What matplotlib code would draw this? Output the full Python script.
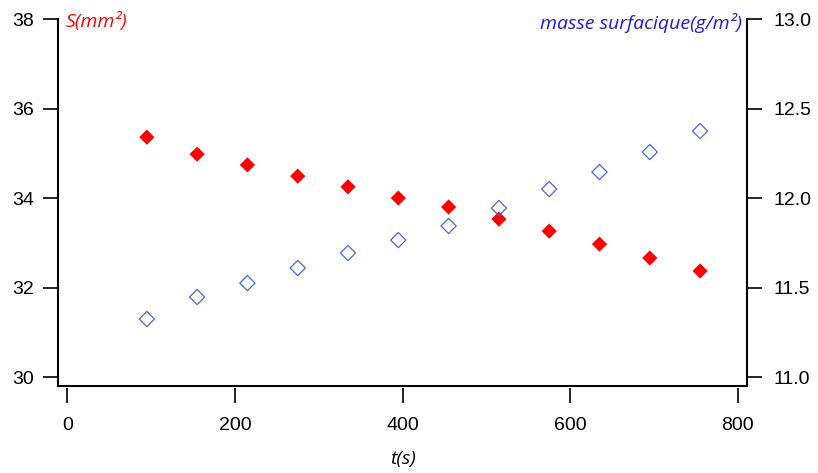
import matplotlib
matplotlib.use("Agg")
import matplotlib.pyplot as plt

t = [95, 155, 215, 275, 335, 395, 455, 515, 575, 635, 695, 755]
S = [35.36, 34.98, 34.74, 34.49, 34.25, 34.00, 33.80, 33.53, 33.26, 32.97, 32.66, 32.37]
masse = [11.324, 11.447, 11.525, 11.609, 11.693, 11.765, 11.844, 11.944, 12.05, 12.145, 12.257, 12.374]

xticks = [0, 200, 400, 600, 800]
yticks_left = [30, 32, 34, 36, 38]
yticks_right = [11.0, 11.5, 12.0, 12.5, 13.0]

plt.rcParams['font.family'] = ['Liberation Sans', 'DejaVu Sans']

fig = plt.figure(figsize=(8.18, 4.73), dpi=100)
ax = fig.add_axes([58/818, 1-386/473, (747-58)/818, (386-19)/473])
ax2 = ax.twinx()

ax.scatter(t, S, marker='D', s=60, color='#ff0000', edgecolors='none', zorder=3)
ax2.scatter(t, masse, marker='D', s=60, facecolors='none', edgecolors='#4169e1', linewidths=0.9, zorder=3)

ax.set_xlim(-11, 811)
ax.set_ylim(29.8, 38)
ax2.set_ylim(10.95, 13.0)

ax.set_xticks(xticks)
ax.set_yticks(yticks_left)
ax.set_yticklabels([str(v) for v in yticks_left])
ax2.set_yticks(yticks_right)
ax2.set_yticklabels([f"{v:.1f}" for v in yticks_right])
ax.set_xticklabels([str(v) for v in xticks])

for a in (ax, ax2):
    a.spines['top'].set_visible(False)
    for s in a.spines.values():
        s.set_linewidth(1.5)
ax.spines['right'].set_visible(False)
ax2.spines['left'].set_visible(False)
ax2.spines['bottom'].set_visible(False)

ax.spines['bottom'].set_position(('outward', 1.5))
ax.spines['bottom'].set_color('none')
ax.plot([0, 1], [0, 0], transform=ax.transAxes, color='black', lw=1.5, clip_on=False, solid_capstyle='projecting')

ax.tick_params(axis='y', direction='out', length=10.5, width=1.2, labelsize=14, pad=7)
ax.tick_params(axis='x', direction='out', length=11, width=1.2, labelsize=14, pad=10)
ax2.tick_params(axis='y', direction='out', length=11, width=1.2, labelsize=14, pad=8)

ax.set_xlabel('t(s)', fontsize=14, fontstyle='italic', family=['Open Sans', 'DejaVu Sans'], labelpad=11)

fig.text(66/818, 1-22/473, 'S(mm²)', color='#ff0000', fontsize=14, fontstyle='italic',
         family=['Open Sans', 'DejaVu Sans'], ha='left', va='center')
fig.text(742/818, 1-23/473, 'masse surfacique(g/m²)', color='#1a1ae0', fontsize=14, fontstyle='italic',
         family=['Open Sans', 'DejaVu Sans'], ha='right', va='center')

fig.savefig('out.png', dpi=100)
